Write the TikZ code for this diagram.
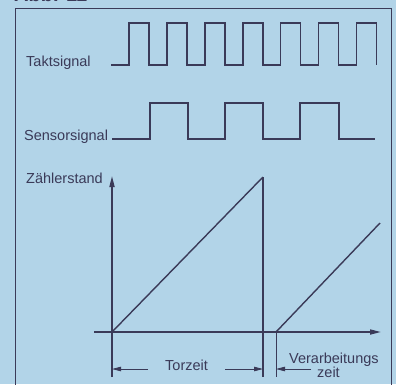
\documentclass[tikz,border=0pt]{standalone}
\usepackage{fontspec}
\setmainfont{Liberation Sans}
\usetikzlibrary{arrows.meta}
\definecolor{bg}{RGB}{178,212,232}
\definecolor{ink}{RGB}{58,58,88}
\begin{document}
\begin{tikzpicture}[x=1pt,y=-1pt,
  lbl/.style={anchor=base west,inner sep=0pt,text=ink,font=\fontsize{14.5}{16}\selectfont},
  sig/.style={draw=ink,line width=1.7pt,line join=miter},
  axis/.style={draw=ink,line width=1.6pt,-{Triangle[length=11pt,width=5pt]}},
  thin/.style={draw=ink,line width=1pt},
  dim/.style={draw=ink,line width=0.8pt,-{Triangle[length=9pt,width=4.5pt]}}]
\useasboundingbox (0,0) rectangle (396,384);
\clip (0,0) rectangle (396,384);
\fill[bg] (0,0) rectangle (396,384);
% title (cut off at the top, as in the reference)
\node[anchor=base west,inner sep=0pt,text=ink,font=\bfseries\fontsize{20}{21}\selectfont] (title) at (14,1.5) {Abb. 11};
% frame
\draw[thin] (15,390) -- (15,8) -- (391,8) -- (391,390);
% labels
\node[lbl] (takt) at (26,66.5) {Taktsignal};
\node[lbl] (sens) at (24,140) {Sensorsignal};
\node[lbl] (zaehl) at (26,183) {Zählerstand};
\node[lbl] (tor) at (165,370) {Torzeit};
\node[lbl] (verb) at (289,363) {Verarbeitungs};
\node[lbl] (zeit) at (317,377) {zeit};
% clock signal
\draw[sig] (111,65) -- (129,65)
  \foreach \k in {0,...,6} {
    -- ({129+37.9*\k},65) -- ({129+37.9*\k},23) -- ({149+37.9*\k},23) -- ({149+37.9*\k},65)
  } ;
% sensor signal
\draw[sig] (112,139) -- (150,139) -- (150,103) -- (188,103) -- (188,139) -- (225,139) -- (225,103)
  -- (263,103) -- (263,139) -- (300,139) -- (300,103) -- (339,103) -- (339,139) -- (375,139);
% axes
\coordinate (o) at (112,332);
\coordinate (ytop) at (112,176);
\coordinate (ybot) at (112,377);
\coordinate (xl) at (94,332);
\coordinate (xr) at (381,332);
\draw[axis] (ybot) -- (ytop);
\draw[axis] (xl) -- (xr);
% ramps
\coordinate (p1) at (263,177);
\coordinate (p1b) at (263,377);
\coordinate (q0) at (276,332);
\coordinate (q0b) at (276,377);
\coordinate (q1) at (380,223);
\draw[sig,line width=1.4pt] (o) -- (p1);
\draw[thin,line width=1.3pt] (p1) -- (p1b);
\draw[sig,line width=1.4pt] (q0) -- (q1);
\draw[thin] (q0) -- (q0b);
% dimension arrows
\coordinate (a1) at (148,369);
\coordinate (a1t) at (112,369);
\coordinate (a2) at (225,369);
\coordinate (a2t) at (263,369);
\coordinate (a3) at (311,369);
\coordinate (a3t) at (276,369);
\draw[dim] (a1) -- (a1t);
\draw[dim] (a2) -- (a2t);
\draw[dim] (a3) -- (a3t);
\end{tikzpicture}
\end{document}
